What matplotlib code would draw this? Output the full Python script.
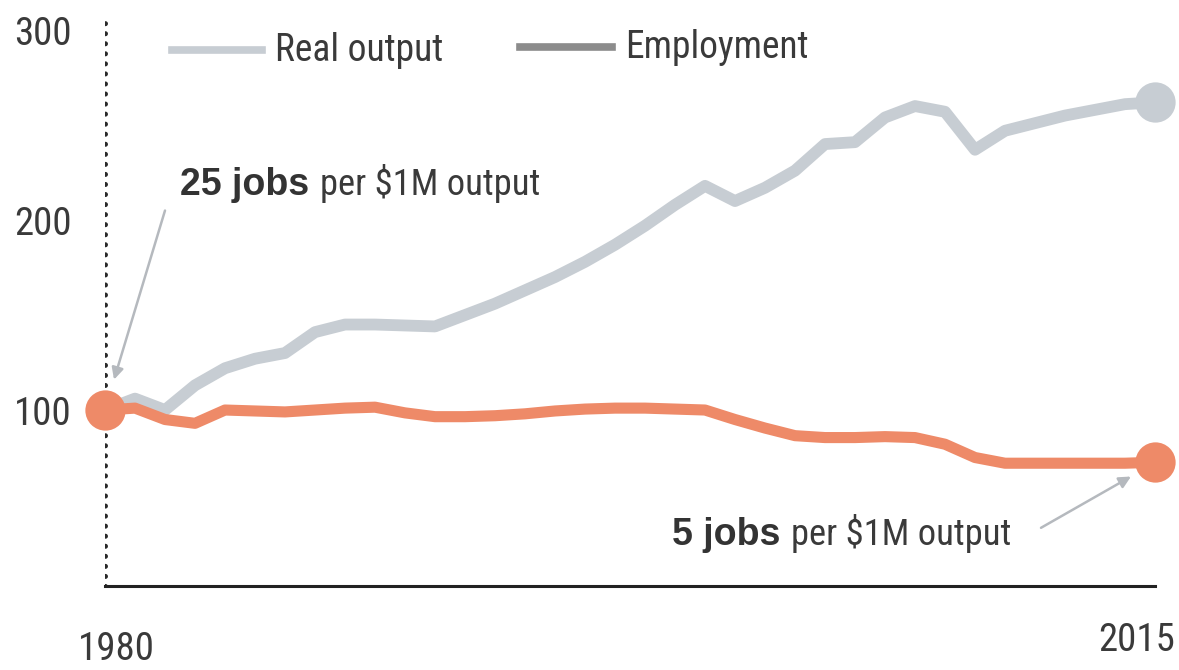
import matplotlib
matplotlib.use("Agg")
import matplotlib.pyplot as plt
from matplotlib import font_manager
from matplotlib.lines import Line2D
from matplotlib.transforms import ScaledTranslation

# ---- data -------------------------------------------------------------
years = list(range(1980, 2016))

real_output = [100, 106, 100, 113, 122, 127, 130, 141, 145, 145,
               144.5, 144, 150, 156, 163, 170, 178, 187, 197, 208,
               218, 210, 217, 226, 240, 241, 254, 260, 257, 237,
               247, 251, 255, 258, 261, 262]

employment = [100, 101, 95, 93, 100, 99.5, 99, 100, 101, 101.5,
              98.5, 96.5, 96.5, 97, 98, 99.5, 100.5, 101, 101, 100.5,
              100, 95, 90.5, 86.5, 85.5, 85.5, 86, 85.5, 82, 75,
              72, 72, 72, 72, 72, 72.5]

y_ticks = [100, 200, 300]
x_ticks = [1980, 2015]
x_tick_labels = ["1980", "2015"]
series_names = ["Real output", "Employment"]
first_jobs = 25
last_jobs = 5

# ---- fonts ------------------------------------------------------------
W, H, DPI = 1179, 670, 100
fonts = font_manager.fontManager.ttflist
names = {f.name for f in fonts}
narrow_families = [n for n in ("Liberation Sans Narrow", "Roboto Condensed",
                               "Open Sans Condensed", "DejaVu Sans Condensed")
                   if n in names]
dejavu_condensed = any(f.name == "DejaVu Sans" and "condensed" in str(f.stretch)
                       for f in fonts)
if narrow_families:
    NARROW = narrow_families[0]
    STRETCH = "normal"
elif dejavu_condensed:
    NARROW = "DejaVu Sans"
    STRETCH = "condensed"
else:
    NARROW = "Roboto" if "Roboto" in names else "DejaVu Sans"
    STRETCH = "normal"
WIDE = "Liberation Sans" if "Liberation Sans" in names else "DejaVu Sans"

plt.rcParams["font.family"] = [NARROW, "DejaVu Sans"]
plt.rcParams["font.stretch"] = STRETCH

ORANGE = "#EE8A68"
LIGHT = "#C7CDD3"
DARK_SWATCH = "#8C8C8C"
TEXT = "#3A3A3A"

fig = plt.figure(figsize=(W / DPI, H / DPI), dpi=DPI)
fig.patch.set_facecolor("white")
renderer = fig.canvas.get_renderer()


def fx(px):
    return px / W


def fy(py):
    return 1 - py / H


def fitted_size(s, base, target_px, **kw):
    """Largest size <= base for which the string fits in target_px."""
    t = fig.text(0, 0, s, fontsize=base, **kw)
    w = t.get_window_extent(renderer).width
    t.remove()
    return base if w <= target_px else base * target_px / w


ax = fig.add_axes([fx(105), fy(586), fx(1155) - fx(105), fy(20) - fy(586)])
ax.set_xlim(1980, 2015)
ax.set_ylim(7.37, 305.3)
ax.set_facecolor("none")

for side in ("top", "right", "left"):
    ax.spines[side].set_visible(False)
ax.spines["bottom"].set_color("#222222")
ax.spines["bottom"].set_linewidth(2.2)

# dotted vertical reference at the start year
ax.axvline(1980, color="#2A2A2A", lw=3.6, linestyle=(0, (0.01, 2.0)),
           dash_capstyle="round", zorder=1)

tick_size = fitted_size("300", 28, 58)
ax.set_yticks(y_ticks)
ax.set_yticklabels([str(v) for v in y_ticks])
ax.tick_params(axis="y", length=0, pad=24, labelsize=tick_size,
               labelcolor=TEXT)
ax.set_xticks(x_ticks)
ax.set_xticklabels(x_tick_labels)
ax.tick_params(axis="x", length=0, pad=26, labelsize=tick_size,
               labelcolor=TEXT)
xl = ax.get_xticklabels()
xl[0].set_horizontalalignment("left")
xl[-1].set_horizontalalignment("right")
# nudge the end labels so they sit under the axis ends
for lab, (dx, dy) in zip(xl, ((-27, -9), (20, 0))):
    lab.set_transform(lab.get_transform() +
                      ScaledTranslation(dx / DPI, dy / DPI, fig.dpi_scale_trans))

# ---- series -----------------------------------------------------------
ax.plot(years, real_output, color=LIGHT, lw=8.5, solid_capstyle="round",
        solid_joinstyle="round", zorder=3, clip_on=False)
ax.plot(years, employment, color=ORANGE, lw=8.0, solid_capstyle="round",
        solid_joinstyle="round", zorder=4, clip_on=False)

ax.plot([years[-1]], [real_output[-1]], "o", ms=29, color=LIGHT,
        mec="none", zorder=5, clip_on=False)
ax.plot([years[0], years[-1]], [employment[0], employment[-1]], "o", ms=29,
        color=ORANGE, mec="none", zorder=6, clip_on=False)

# ---- legend -----------------------------------------------------------
leg_size = min(fitted_size(series_names[0], 27, 175),
               fitted_size(series_names[1], 27, 190))
fig.add_artist(Line2D([fx(172), fx(262)], [fy(50), fy(50)], color=LIGHT, lw=5.5,
                      transform=fig.transFigure))
fig.text(fx(275), fy(61), series_names[0], fontsize=leg_size, color=TEXT,
         ha="left", va="baseline")
fig.add_artist(Line2D([fx(520), fx(612)], [fy(47), fy(47)], color=DARK_SWATCH,
                      lw=5.5, transform=fig.transFigure))
fig.text(fx(625), fy(58), series_names[1], fontsize=leg_size, color=TEXT,
         ha="left", va="baseline")

# ---- annotations ------------------------------------------------------
rest_text = "per $1M output"
bold_size = fitted_size(f"{first_jobs} jobs", 27, 134, fontweight="bold",
                        family=[WIDE])
rest_size = fitted_size(rest_text, 27, 220)


def two_part_label(x, y, bold, rest):
    t1 = ax.text(x, y, bold, fontsize=bold_size, fontweight="bold",
                 family=[WIDE], color="#333333", ha="left", va="baseline")
    bb = t1.get_window_extent(renderer)
    inv = ax.transData.inverted()
    x2 = inv.transform((bb.x1 + 11, bb.y0))[0]
    ax.text(x2, y, rest, fontsize=rest_size, color=TEXT, ha="left",
            va="baseline")


two_part_label(1982.5, 213, f"{first_jobs} jobs", rest_text)
two_part_label(1998.9, 29, f"{last_jobs} jobs", rest_text)

arrow_style = dict(arrowstyle="-|>,head_length=0.7,head_width=0.35",
                   color="#B5B9BE", lw=1.8, shrinkA=0, shrinkB=0)
ax.annotate("", xy=(1980.3, 116), xytext=(1982.0, 205),
            arrowprops=arrow_style, annotation_clip=False)
ax.annotate("", xy=(2014.2, 65), xytext=(2011.2, 38),
            arrowprops=arrow_style, annotation_clip=False)

fig.savefig("out.png", dpi=DPI, facecolor="white")
